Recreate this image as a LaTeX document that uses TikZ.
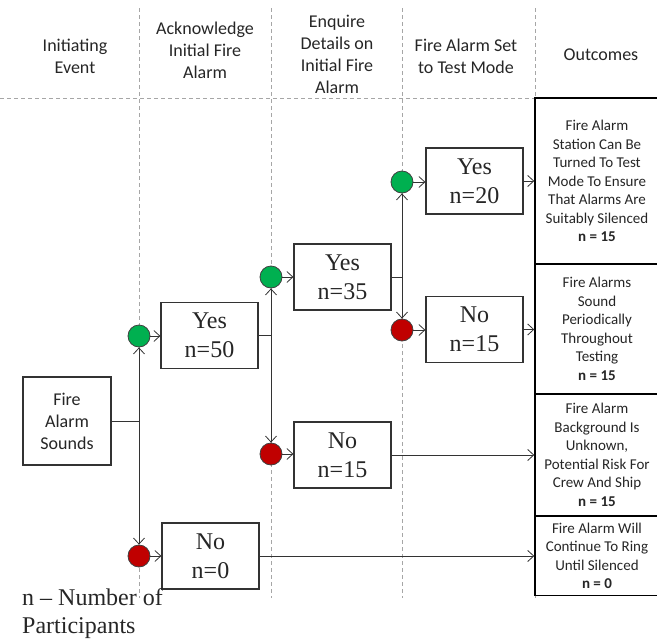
\documentclass[tikz,border=0pt]{standalone}
\usepackage{fontspec}
\setmainfont{Liberation Serif}
\newfontfamily\headfont{Carlito}
\usetikzlibrary{arrows.meta}
\definecolor{okgreen}{HTML}{00B050}
\definecolor{badred}{HTML}{C00000}
\definecolor{guide}{HTML}{A6A6A6}
\tikzset{
  guideline/.style={draw=guide, line width=0.8pt, dash pattern=on 4pt off 3pt},
  head/.style={align=center, inner sep=0pt, text=black!85, font=\headfont\fontsize{18}{22}\selectfont},
  initbox/.style={draw=black!80, line width=1.2pt, fill=white, inner sep=0pt,
    minimum width=88pt, minimum height=88pt, align=center, text=black!85,
    font=\headfont\fontsize{18}{22}\selectfont},
  eventbox/.style={draw=black!80, line width=1.2pt, fill=white, inner sep=0pt,
    minimum width=97pt, minimum height=66pt, align=center, text=black!85,
    font=\fontsize{24}{29}\selectfont},
  outbox/.style={draw=black, line width=1.4pt, fill=white, inner sep=0pt,
    minimum width=124pt, align=center, text=black!85,
    font=\headfont\fontsize{15}{18.5}\selectfont},
  yesdot/.style={circle, draw=black!75, line width=0.8pt, fill=okgreen,
    minimum size=22pt, inner sep=0pt},
  nodot/.style={yesdot, fill=badred},
  link/.style={draw=black!80, line width=0.9pt},
  flow/.style={link, -{Straight Barb[length=6pt,width=11pt,line width=0.8pt]}},
}
\begin{document}
\begin{tikzpicture}[x=1pt,y=-1pt]
\useasboundingbox (0,0) rectangle (657,640);

% column guides
\foreach \gx in {139,271,402,535}
  \draw[guideline] (\gx,8) -- (\gx,598);
\draw[guideline] (0,98) -- (535,98);

% column headings
\node[head] (h1) at (75,56)  {Initiating\\Event};
\node[head] (h2) at (205,50) {Acknowledge\\Initial Fire\\Alarm};
\node[head] (h3) at (337,54) {Enquire\\Details on\\Initial Fire\\Alarm};
\node[head] (h4) at (466,56) {Fire Alarm Set\\to Test Mode};
\node[head] (h5) at (601,55) {Outcomes};

% outcomes
\node[outbox, minimum height=166pt] (o1) at (597,181)
  {Fire Alarm\\Station Can Be\\Turned To Test\\Mode To Ensure\\That Alarms Are\\Suitably Silenced\\\textbf{n = 15}};
\node[outbox, minimum height=130pt] (o2) at (597,329)
  {Fire Alarms\\Sound\\Periodically\\Throughout\\Testing\\\textbf{n = 15}};
\node[outbox, minimum height=122pt] (o3) at (597,455)
  {Fire Alarm\\Background Is\\Unknown,\\Potential Risk For\\Crew And Ship\\\textbf{n = 15}};
\node[outbox, minimum height=79pt] (o4) at (597,556)
  {Fire Alarm Will\\Continue To Ring\\Until Silenced\\\textbf{n = 0}};

% initiating event and branch results
\node[initbox] (fas) at (67,421) {Fire\\Alarm\\Sounds};
\node[eventbox] (yes50) at (209.5,335.5) {Yes\\n=50};
\node[eventbox] (no0)   at (210.5,556)   {No\\n=0};
\node[eventbox] (yes35) at (342.5,277)   {Yes\\n=35};
\node[eventbox] (no15a) at (342.5,455)   {No\\n=15};
\node[eventbox] (yes20) at (474.5,181)   {Yes\\n=20};
\node[eventbox] (no15b) at (474.5,329.5) {No\\n=15};

% branch points
\node[yesdot] (g1) at (139,336) {};
\node[nodot]  (r1) at (139,556) {};
\node[yesdot] (g2) at (271,277) {};
\node[nodot]  (r2) at (271,454) {};
\node[yesdot] (g3) at (402,182) {};
\node[nodot]  (r3) at (402,330) {};

\coordinate (j1) at (fas.east -| g1);
\coordinate (j2) at (yes50.east -| g2);
\coordinate (j3) at (yes35.east -| g3);

% splits
\draw[link] (fas.east) -- (j1);
\draw[flow] (j1) -- (g1);
\draw[flow] (j1) -- (r1);
\draw[link] (yes50.east) -- (j2);
\draw[flow] (j2) -- (g2);
\draw[flow] (j2) -- (r2);
\draw[link] (yes35.east) -- (j3);
\draw[flow] (j3) -- (g3);
\draw[flow] (j3) -- (r3);

% branch point to result
\draw[flow] (g1.east) -- (g1.east -| yes50.west);
\draw[flow] (r1.east) -- (r1.east -| no0.west);
\draw[flow] (g2.east) -- (g2.east -| yes35.west);
\draw[flow] (r2.east) -- (r2.east -| no15a.west);
\draw[flow] (g3.east) -- (g3.east -| yes20.west);
\draw[flow] (r3.east) -- (r3.east -| no15b.west);

% result to outcome
\draw[flow] (yes20.east) -- (yes20.east -| o1.west);
\draw[flow] (no15b.east) -- (no15b.east -| o2.west);
\draw[flow] (no15a.east) -- (no15a.east -| o3.west);
\draw[flow] (no0.east)   -- (no0.east -| o4.west);

% key
\node[anchor=north west, align=left, inner sep=0pt, text=black!85,
  font=\fontsize{24}{28}\selectfont] (key) at (22,588.5) {n -- Number of\\Participants};
\end{tikzpicture}
\end{document}
